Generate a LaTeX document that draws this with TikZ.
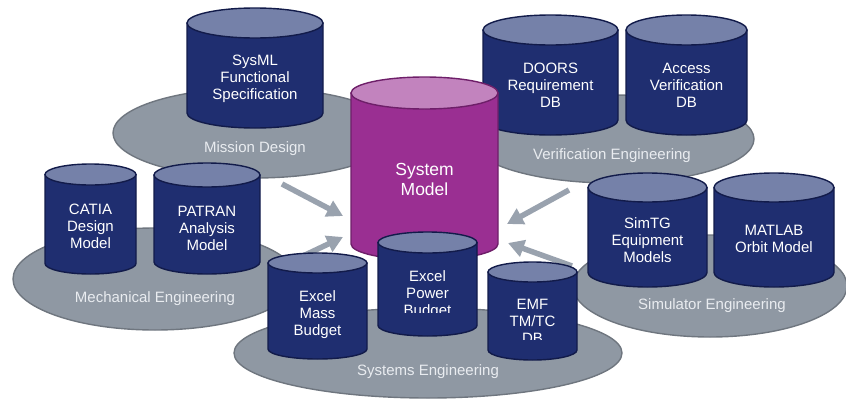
\documentclass[tikz,border=0pt]{standalone}
\usepackage{fontspec}
\setmainfont{Liberation Sans}
\usetikzlibrary{arrows.meta}
\definecolor{navybody}{HTML}{1F2E70}
\definecolor{navytopc}{HTML}{7581A9}
\definecolor{navyline}{HTML}{121B4A}
\definecolor{pinkbodyc}{HTML}{9A2F92}
\definecolor{pinktopc}{HTML}{C283BE}
\definecolor{pinkline}{HTML}{6E1F69}
\definecolor{platformc}{HTML}{8F98A3}
\definecolor{platformline}{HTML}{6F767F}
\definecolor{arrowgray}{HTML}{99A2AE}
\definecolor{labeltext}{HTML}{E9ECF0}
\tikzset{
  navybody/.style={fill=navybody,draw=navyline,line width=1.4pt,line join=round},
  navytop/.style={fill=navytopc,draw=navyline,line width=1.4pt},
  pinkbody/.style={fill=pinkbodyc,draw=pinkline,line width=1.4pt,line join=round},
  pinktop/.style={fill=pinktopc,draw=pinkline,line width=1.4pt},
  platform/.style={fill=platformc,draw=platformline,line width=1.4pt},
  cyltext/.style={text=white,align=center,inner sep=0pt,font=\fontsize{15}{17}\selectfont},
  bigtext/.style={text=white,align=center,inner sep=0pt,font=\fontsize{17.5}{20}\selectfont},
  platlabel/.style={text=labeltext,inner sep=0pt,font=\fontsize{15}{17}\selectfont},
  flowarrow/.style={draw=arrowgray,line width=5.5pt,-{Triangle[length=16pt,width=17pt]}},
}
% #1 style prefix, #2 cx, #3 y of top ellipse centre, #4 y of bottom ellipse centre, #5 rx, #6 ry
\newcommand\dbcyl[6]{%
  \path[#1body] ({#2-#5},#3) -- ({#2-#5},#4) arc[start angle=180,end angle=0,x radius=#5,y radius=#6] -- ({#2+#5},#3) -- cycle;
  \path[#1top] (#2,#3) ellipse[x radius=#5,y radius=#6];
}
\begin{document}
\begin{tikzpicture}[x=1pt,y=-1pt]
\useasboundingbox (0,0) rectangle (846,399);

% platforms
\path[platform] (255,133) ellipse[x radius=142,y radius=45];
\node[platlabel] (lmission) at (255,149) {Mission Design};
\path[platform] (612,139) ellipse[x radius=142,y radius=44];
\node[platlabel] (lverif) at (612,156) {Verification Engineering};
\path[platform] (155,279) ellipse[x radius=142,y radius=51];
\node[platlabel] (lmech) at (155,299) {Mechanical Engineering};
\path[platform] (428,353) ellipse[x radius=194,y radius=45];
\node[platlabel] (lsys) at (428,372) {Systems Engineering};
\path[platform] (710,286) ellipse[x radius=137,y radius=51];
\node[platlabel] (lsim) at (712,306) {Simulator Engineering};

% arrows
\coordinate (t1) at (282,184); \coordinate (h1) at (343,216);
\coordinate (t2) at (282,266); \coordinate (h2) at (343,237);
\coordinate (t3) at (569,190); \coordinate (h3) at (507,224);
\coordinate (t4) at (572,266); \coordinate (h4) at (508,243);
\draw[flowarrow] (t1) -- (h1);
\draw[flowarrow] (t2) -- (h2);
\draw[flowarrow] (t3) -- (h3);
\draw[flowarrow] (t4) -- (h4);

% mission design
\dbcyl{navy}{255}{23}{113}{68}{15}
\node[cyltext] (sysml) at (255,78.5) {SysML\\Functional\\Specification};

% verification
\dbcyl{navy}{550.5}{30}{120}{67.5}{15}
\node[cyltext] (doors) at (550.5,85) {DOORS\\Requirement\\DB};
\dbcyl{navy}{686.5}{30}{120}{60.5}{15}
\node[cyltext] (access) at (686.5,85) {Access\\Verification\\DB};

% mechanical
\dbcyl{navy}{90.5}{174.5}{263.5}{45.5}{10.5}
\node[cyltext] (catia) at (90.5,226) {CATIA\\Design\\Model};
\dbcyl{navy}{207}{175}{262}{53}{12}
\node[cyltext] (patran) at (207,228) {PATRAN\\Analysis\\Model};

% simulator
\dbcyl{navy}{647.5}{187.5}{272.5}{59.5}{14.5}
\node[cyltext] (simtg) at (647.5,240) {SimTG\\Equipment\\Models};
\dbcyl{navy}{774}{187.5}{272.5}{60}{14.5}
\node[cyltext] (matlab) at (774,239) {MATLAB\\Orbit Model};

% system model
\dbcyl{pink}{424.5}{93}{244}{73.5}{16}
\node[bigtext] (sysmodel) at (424.5,179) {System\\Model};

% systems engineering
\dbcyl{navy}{317.5}{263}{349}{49.5}{10}
\node[cyltext] (mass) at (317.5,314.5) {Excel\\Mass\\Budget};
\dbcyl{navy}{427.5}{242.5}{325.5}{49.5}{10.5}
\begin{scope}
\clip (378,232) rectangle (477,312);
\node[cyltext] (power) at (427.5,295) {Excel\\Power\\Budget};
\end{scope}
\dbcyl{navy}{532.5}{272}{350}{44.5}{10}
\begin{scope}
\clip (488,262) rectangle (577,339);
\node[cyltext] (emf) at (532.5,321.5) {EMF\\TM/TC\\DB};
\end{scope}
\end{tikzpicture}
\end{document}
